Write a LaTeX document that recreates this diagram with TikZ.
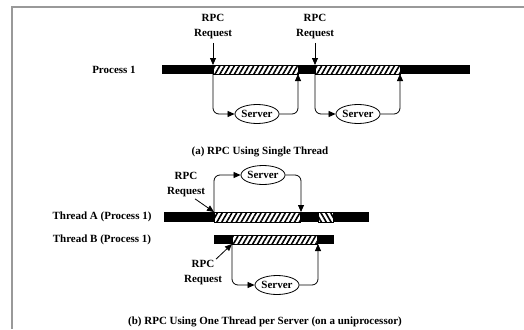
\documentclass[tikz,border=0pt]{standalone}
\usepackage{fontspec}
\setmainfont{Liberation Serif}
\usetikzlibrary{calc, shapes.geometric, arrows.meta, patterns.meta}

\tikzset{
  bar/.style={fill=black},
  hatch/.style={draw=black, line width=0.6pt, preaction={fill=white},
    pattern={Lines[angle=60, distance=4.2pt, line width=1.6pt]}},
  backhatch/.style={draw=black, line width=0.6pt, preaction={fill=white},
    pattern={Lines[angle=120, distance=4.2pt, line width=1.6pt]}},
  srv/.style={ellipse, draw, line width=0.8pt, inner sep=0pt, minimum width=44pt, minimum height=19pt},
  flow/.style={line width=0.8pt, rounded corners=6pt, -{Triangle[length=7pt, width=6pt]}},
}

\begin{document}
\begin{tikzpicture}[x=1pt, y=-1pt, font=\bfseries\fontsize{11}{15}\selectfont]
    \useasboundingbox (0,0) rectangle (524,329);
    \draw[gray!80, line width=1.2pt] (524,7) -- (12,7) -- (12,329);

    % (a) single thread
    \fill[bar] (162,65) rectangle (470,74);
    \draw[hatch] (213,65) rectangle (298,74);
    \draw[hatch] (315,65) rectangle (400,74);
    \node (proc) at (114,70) {Process 1};

    \coordinate (r1) at (213,65);
    \coordinate (r2) at (315,65);
    \coordinate (s1) at (213,74);
    \coordinate (s2) at (315,74);
    \coordinate (e1) at (298,74);
    \coordinate (e2) at (400,74);

    \node[align=center] (req1) at (213,27) {RPC\\Request};
    \node[align=center] (req2) at (315,27) {RPC\\Request};
    \draw[flow] (req1.south) -- (r1);
    \draw[flow] (req2.south) -- (r2);

    \node[srv] (srv1) at (257,114) {Server};
    \node[srv] (srv2) at (358,114) {Server};
    \draw[flow] (s1) |- (srv1);
    \draw[flow] (srv1) -| (e1);
    \draw[flow] (s2) |- (srv2);
    \draw[flow] (srv2) -| (e2);

    \node (capa) at (260,152) {(a) RPC Using Single Thread};

    % (b) one thread per server
    \fill[bar] (164,212) rectangle (369,222);
    \draw[hatch] (214,212) rectangle (300,222);
    \draw[backhatch] (318,212) rectangle (333,222);
    \node (thA) at (102,217) {Thread A (Process 1)};

    \fill[bar] (214,235) rectangle (334,244);
    \draw[hatch] (232,235) rectangle (317,244);
    \node (thB) at (102,240) {Thread B (Process 1)};

    \coordinate (a1) at (214,212);
    \coordinate (a2) at (301,212);
    \coordinate (b1) at (232,244);
    \coordinate (b2) at (318,244);

    \node[align=center] (reqA) at (186,185) {RPC\\Request};
    \node[align=center] (reqB) at (203,273) {RPC\\Request};
    \draw[flow] ($(reqA.south)+(9,-2)$) -- (a1);
    \draw[flow] ($(reqB.north)+(13,2)$) -- (b1);

    \node[srv] (srvA) at (263,175) {Server};
    \node[srv] (srvB) at (277,285) {Server};
    \draw[flow] (a1) |- (srvA);
    \draw[flow] (srvA) -| (a2);
    \draw[flow] (b1) |- (srvB);
    \draw[flow] (srvB) -| (b2);

    \node (capb) at (265,322) {(b) RPC Using One Thread per Server (on a uniprocessor)};
\end{tikzpicture}
\end{document}
